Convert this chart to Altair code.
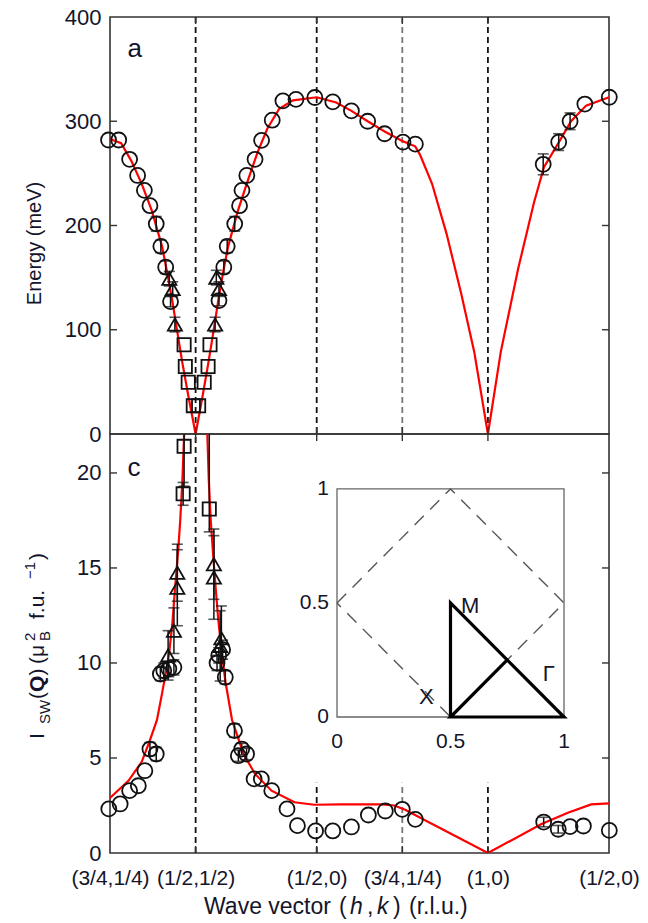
import altair as alt
import pandas as pd

# ---------------- x path (distance along the route, r.l.u.) ----------------
TICK_POS = [0.0, 0.3536, 0.8536, 1.2071, 1.5607, 2.0607]
TICK_LABELS = ["(3/4,1/4)", "(1/2,1/2)", "(1/2,0)", "(3/4,1/4)", "(1,0)", "(1/2,0)"]
VLINE_POS = [0.3536, 0.8536, 1.2071, 1.5607]
VLINE_COL = ["#111111", "#111111", "#777777", "#111111"]
VLINE_BOT_TOP = [22.05, 3.7, 3.7, 3.7]

# ---------------- panel a : energy ----------------
TOP_CIRC_X = [-0.006, 0.036, 0.081, 0.114, 0.142, 0.165, 0.191, 0.210, 0.230, 0.250,
              0.450, 0.470, 0.484, 0.515, 0.535, 0.545, 0.565, 0.599, 0.626, 0.670,
              0.714, 0.768, 0.846, 0.920, 0.997, 1.064, 1.134, 1.210, 1.261,
              1.789, 1.853, 1.900, 1.961, 2.062]
TOP_CIRC_Y = [282, 282, 263.5, 248, 233.7, 219, 201.6, 180, 160, 127,
              128, 160, 180, 201.6, 219, 233.7, 248, 263.5, 281.7, 301,
              319.6, 321, 322.8, 318.6, 310, 300, 288, 280, 278,
              258.7, 280, 300, 316.5, 323]
TOP_CIRC_ERR = [0, 0, 0, 0, 0, 0, 7, 6, 6, 5,
                5, 6, 6, 7, 0, 0, 0, 0, 0, 0,
                0, 0, 0, 0, 0, 0, 0, 0, 0,
                10, 8, 8, 0, 0]
TOP_TRI_X = [0.245, 0.259, 0.268, 0.434, 0.439, 0.450]
TOP_TRI_Y = [149, 139, 105, 105, 150, 139]
TOP_TRI_ERR = [7, 7, 7, 7, 7, 7]
TOP_SQ_X = [0.306, 0.311, 0.323, 0.344, 0.366, 0.389, 0.405, 0.413]
TOP_SQ_Y = [85.6, 64.7, 49.7, 27.2, 27.0, 49.7, 64.7, 85.6]

TOP_LINE_X = [0.0, 0.046, 0.088, 0.131, 0.173, 0.215, 0.236, 0.257, 0.278, 0.299, 0.324, 0.3536,
              0.382, 0.406, 0.427, 0.447, 0.467, 0.488, 0.528, 0.569, 0.609, 0.650, 0.699, 0.756,
              0.8536, 0.934, 0.997, 1.064, 1.136, 1.2071, 1.260, 1.280, 1.330, 1.390, 1.450,
              1.504, 1.5607,
              1.614, 1.685, 1.751, 1.792, 1.854, 1.904, 1.966, 2.0607]
TOP_LINE_Y = [283, 279, 262, 240, 214, 180, 155, 128, 98, 68, 36, 0,
              36, 68, 98, 128, 155, 180, 214, 243, 270, 293, 312, 320,
              323, 318, 310, 300, 290, 281, 276, 268, 240, 192, 135,
              79, 0,
              79, 158, 222, 256, 280, 300, 315, 323]

# ---------------- panel c : intensity ----------------
BOT_CIRC_X = [-0.005, 0.042, 0.081, 0.117, 0.144, 0.165, 0.191, 0.208, 0.222, 0.243, 0.264,
              0.465, 0.449, 0.442, 0.476, 0.514, 0.530, 0.544, 0.564, 0.595, 0.625, 0.668,
              0.731, 0.774, 0.849, 0.920, 0.997, 1.067, 1.137, 1.207, 1.261,
              1.791, 1.851, 1.900, 1.955, 2.062]
BOT_CIRC_Y = [2.32, 2.58, 3.28, 3.54, 4.33, 5.47, 5.21, 9.42, 9.6, 9.68, 9.77,
              10.7, 10.4, 10.0, 9.25, 6.44, 5.12, 5.47, 5.21, 3.9, 3.9, 3.28,
              2.32, 1.44, 1.16, 1.16, 1.37, 2.0, 2.21, 2.3, 1.77,
              1.63, 1.25, 1.39, 1.42, 1.19]
BOT_CIRC_ERR = [0, 0, 0, 0, 0, 0.35, 0.35, 0.35, 0.4, 0.4, 0.4,
                0.5, 0.4, 0.4, 0.35, 0.35, 0.3, 0.3, 0.3, 0, 0, 0,
                0, 0, 0, 0, 0, 0, 0, 0, 0,
                0.25, 0.2, 0, 0, 0]
BOT_TRI_X = [0.240, 0.264, 0.278, 0.278, 0.429, 0.429, 0.460, 0.455]
BOT_TRI_Y = [10.4, 11.7, 13.96, 14.75, 15.2, 14.5, 11.3, 10.9]
BOT_TRI_ERR = [1.3, 1.2, 2.0, 1.5, 1.85, 2.2, 1.7, 1.85]
BOT_SQ_X = [0.302, 0.306, 0.410]
BOT_SQ_Y = [18.9, 21.4, 18.1]
BOT_SQ_ERR_LO = [0.6, 2.1, 1.2]
BOT_SQ_ERR_HI = [0.6, 2.5, 5.0]

BOT_LINE_L_X = [0.0, 0.076, 0.131, 0.164, 0.194, 0.215, 0.232, 0.244, 0.257, 0.269, 0.282,
                0.290, 0.299, 0.306, 0.312]
BOT_LINE_L_Y = [2.9, 3.8, 4.8, 5.9, 7.0, 8.4, 9.6, 10.5, 12.0, 14.0, 16.0, 17.5, 19.6, 22.0, 24.5]
BOT_LINE_R_X = [0.394, 0.402, 0.408, 0.416, 0.427, 0.436, 0.447, 0.461, 0.477, 0.504, 0.552,
                0.599, 0.667, 0.762, 0.843, 0.955, 1.123, 1.174, 1.219, 1.295, 1.5607,
                1.780, 1.891, 1.987, 2.0607]
BOT_LINE_R_Y = [24.5, 22.0, 19.6, 17.5, 15.5, 14.0, 12.3, 10.6, 9.0, 7.0, 5.2,
                4.16, 3.28, 2.67, 2.54, 2.56, 2.56, 2.5, 2.28, 1.76, 0.0,
                1.51, 2.12, 2.56, 2.61]

# ---------------- inset (Brillouin zone, its own 0..1 units) ----------------
DIAMOND_X = [0, 0.5, 1, 0.5, 0]
DIAMOND_Y = [0.5, 1, 0.5, 0, 0.5]
ROUTE_X = [0.5, 0.5, 1, 0.5, 0.75]
ROUTE_Y = [0, 0.5, 0, 0, 0.25]
INSET_TICKS = [0, 0.5, 1]
INSET_TICK_TEXT = ["0", "0.5", "1"]
POINT_NAMES = ["M", "X", "Γ"]
POINT_NAME_X = [0.546, 0.361, 0.906]
POINT_NAME_Y = [0.457, 0.057, 0.158]
# placement of the inset box inside panel c (in panel-c data units)
INSET_X0, INSET_XSPAN = 0.9374, 0.9375
INSET_Y0, INSET_YSPAN = 7.157, 12.0

# ---------------- styling ----------------
FONT = "Liberation Sans"
W, H_TOP, H_BOT = 499, 417, 419
TXT = "#14142a"
LABEL_FS = 21

mids = [(TICK_POS[i] + TICK_POS[i + 1]) / 2 for i in range(len(TICK_POS) - 1)]
label_expr = "'%s'" % TICK_LABELS[-1]
for i in reversed(range(len(mids))):
    label_expr = "datum.value < %f ? '%s' : (%s)" % (mids[i], TICK_LABELS[i], label_expr)

xscale = alt.Scale(domain=[0, 2.0607], nice=False, zero=False)
yscale_top = alt.Scale(domain=[0, 400], nice=False, zero=False)
yscale_bot = alt.Scale(domain=[0, 22.05], nice=False, zero=False)

YAX_TOP = alt.Axis(values=[0, 100, 200, 300, 400], ticks=False, domain=False, grid=False,
                   labelFontSize=22, labelPadding=9, labelColor=TXT,
                   title="Energy (meV)", titleFontSize=20, titleFontWeight="normal",
                   titleColor=TXT, titleX=-70, titleY=226, titleAngle=270,
                   titleAlign="center", titleBaseline="alphabetic")
YAX_BOT = alt.Axis(values=[0, 5, 10, 15, 20], ticks=False, domain=False, grid=False,
                   labelFontSize=22, labelPadding=9, labelColor=TXT, title=None)
XAX_BOT = alt.Axis(values=TICK_POS, labelExpr=label_expr, ticks=False, domain=False,
                   grid=False, labelFontSize=LABEL_FS, labelPadding=14, labelOverlap=False,
                   labelFlush=False, labelColor=TXT, title=None)


def enc(xax, yax, yscale, x="x", y="y"):
    return dict(x=alt.X(f"{x}:Q", scale=xscale, axis=xax),
                y=alt.Y(f"{y}:Q", scale=yscale, axis=yax))


def panel_layers(circ, tri, sq, lines, xax, yax, yscale, clip):
    layers = []
    layers.append(alt.Chart(lines).mark_line(color="#ff0000", strokeWidth=2.2, clip=clip)
                  .encode(**enc(xax, yax, yscale), detail="b:N", order="i:Q"))
    for df in (circ, tri, sq):
        e = df[df["hi"] > df["lo"]]
        if len(e):
            layers.append(alt.Chart(e).mark_rule(color="#111", strokeWidth=1.5, clip=clip)
                          .encode(x=alt.X("x:Q", scale=xscale, axis=xax),
                                  y=alt.Y("lo:Q", scale=yscale, axis=yax), y2="hi:Q"))
            for col in ("lo", "hi"):
                layers.append(alt.Chart(e).mark_tick(orient="horizontal", size=11, thickness=1.6,
                                                     color="#111", clip=clip)
                              .encode(**enc(xax, yax, yscale, y=col)))
    for df, shape, size in ((circ, "circle", 225), (tri, "triangle-up", 200), (sq, "square", 175)):
        layers.append(alt.Chart(df).mark_point(shape=shape, filled=False, size=size,
                                               color="#111", strokeWidth=1.8, opacity=1)
                      .encode(**enc(xax, yax, yscale)))
    return layers


def mkdf(xs, ys, lo, hi):
    return pd.DataFrame({"x": xs, "y": ys,
                         "lo": [a - b for a, b in zip(ys, lo)],
                         "hi": [a + b for a, b in zip(ys, hi)]})


def tick_layers(yvals, yscale, yax, xax, h):
    t = []
    ydf = pd.DataFrame({"y": yvals})
    xdf = pd.DataFrame({"x": TICK_POS[1:-1]})
    t.append(alt.Chart(ydf).mark_rule(color="#333", strokeWidth=1.4)
             .encode(y=alt.Y("y:Q", scale=yscale, axis=yax), x=alt.value(0), x2=alt.value(7)))
    t.append(alt.Chart(ydf).mark_rule(color="#333", strokeWidth=1.4)
             .encode(y=alt.Y("y:Q", scale=yscale, axis=yax), x=alt.value(W - 7), x2=alt.value(W)))
    t.append(alt.Chart(xdf).mark_rule(color="#333", strokeWidth=1.4)
             .encode(x=alt.X("x:Q", scale=xscale, axis=xax), y=alt.value(0), y2=alt.value(7)))
    t.append(alt.Chart(xdf).mark_rule(color="#333", strokeWidth=1.4)
             .encode(x=alt.X("x:Q", scale=xscale, axis=xax), y=alt.value(h - 7), y2=alt.value(h)))
    return t


one = pd.DataFrame({"k": [0]})


def label_piece(txt, fs, px, py, angle=0, weight="normal", style="normal"):
    return (alt.Chart(one).mark_text(angle=angle, align="left", baseline="alphabetic",
                                     fontSize=fs, fontWeight=weight, fontStyle=style, color=TXT)
            .encode(x=alt.value(px), y=alt.value(py), text=alt.value(txt)))


# ---------------- top panel ----------------
top_circ = mkdf(TOP_CIRC_X, TOP_CIRC_Y, TOP_CIRC_ERR, TOP_CIRC_ERR)
top_tri = mkdf(TOP_TRI_X, TOP_TRI_Y, TOP_TRI_ERR, TOP_TRI_ERR)
top_sq = mkdf(TOP_SQ_X, TOP_SQ_Y, [0] * len(TOP_SQ_X), [0] * len(TOP_SQ_X))
top_lines = pd.DataFrame({"x": TOP_LINE_X, "y": TOP_LINE_Y, "b": 0, "i": range(len(TOP_LINE_X))})

vl_top = pd.DataFrame({"x": VLINE_POS, "c": VLINE_COL})
top_layers = [alt.Chart(vl_top).mark_rule(strokeDash=[6, 4], strokeWidth=1.8)
              .encode(x=alt.X("x:Q", scale=xscale, axis=None), color=alt.Color("c:N", scale=None))]
top_layers += panel_layers(top_circ, top_tri, top_sq, top_lines, None, YAX_TOP, yscale_top, False)
top_layers += tick_layers([100, 200, 300], yscale_top, YAX_TOP, None, H_TOP)
top_layers.append(alt.Chart(pd.DataFrame({"x": [0.072], "y": [362], "t": ["a"]}))
                  .mark_text(align="left", baseline="alphabetic", fontSize=26, color=TXT)
                  .encode(**enc(None, YAX_TOP, yscale_top), text="t:N"))
top = alt.layer(*top_layers).properties(width=W, height=H_TOP)

# ---------------- bottom panel ----------------
bot_circ = mkdf(BOT_CIRC_X, BOT_CIRC_Y, BOT_CIRC_ERR, BOT_CIRC_ERR)
bot_tri = mkdf(BOT_TRI_X, BOT_TRI_Y, BOT_TRI_ERR, BOT_TRI_ERR)
bot_sq = mkdf(BOT_SQ_X, BOT_SQ_Y, BOT_SQ_ERR_LO, BOT_SQ_ERR_HI)
bot_lines = pd.concat([
    pd.DataFrame({"x": BOT_LINE_L_X, "y": BOT_LINE_L_Y, "b": 0, "i": range(len(BOT_LINE_L_X))}),
    pd.DataFrame({"x": BOT_LINE_R_X, "y": BOT_LINE_R_Y, "b": 1, "i": range(len(BOT_LINE_R_X))}),
])
vl_bot = pd.DataFrame({"x": VLINE_POS, "c": VLINE_COL, "y1": 0, "y2": VLINE_BOT_TOP})
bot_layers = [alt.Chart(vl_bot).mark_rule(strokeDash=[6, 4], strokeWidth=1.8)
              .encode(x=alt.X("x:Q", scale=xscale, axis=XAX_BOT),
                      y=alt.Y("y1:Q", scale=yscale_bot, axis=YAX_BOT), y2="y2:Q",
                      color=alt.Color("c:N", scale=None))]
bot_layers += panel_layers(bot_circ, bot_tri, bot_sq, bot_lines, XAX_BOT, YAX_BOT, yscale_bot, True)
bot_layers += tick_layers([5, 10, 15, 20], yscale_bot, YAX_BOT, XAX_BOT, H_BOT)
bot_layers.append(alt.Chart(pd.DataFrame({"x": [0.072], "y": [19.84], "t": ["c"]}))
                  .mark_text(align="left", baseline="alphabetic", fontSize=26, color=TXT)
                  .encode(**enc(XAX_BOT, YAX_BOT, yscale_bot), text="t:N"))

# ----- inset, mapped into panel c coordinates -----
IX = "%f + %f * datum.u" % (INSET_X0, INSET_XSPAN)
IY = "%f + %f * datum.v" % (INSET_Y0, INSET_YSPAN)


def inset_chart(df):
    return alt.Chart(df).transform_calculate(x=IX, y=IY)


bot_layers.append(
    inset_chart(pd.DataFrame({"u": [0], "v": [0], "u2": [1], "v2": [1]}))
    .transform_calculate(x2="%f + %f * datum.u2" % (INSET_X0, INSET_XSPAN),
                         y2="%f + %f * datum.v2" % (INSET_Y0, INSET_YSPAN))
    .mark_rect(fill="white", stroke="#666", strokeWidth=1.3)
    .encode(**enc(XAX_BOT, YAX_BOT, yscale_bot), x2="x2:Q", y2="y2:Q"))
bot_layers.append(
    inset_chart(pd.DataFrame({"u": DIAMOND_X, "v": DIAMOND_Y, "i": range(5)}))
    .mark_line(color="#555", strokeWidth=1.4, strokeDash=[13, 9])
    .encode(**enc(XAX_BOT, YAX_BOT, yscale_bot), order="i:Q"))
bot_layers.append(
    inset_chart(pd.DataFrame({"u": ROUTE_X, "v": ROUTE_Y, "i": range(5)}))
    .mark_line(color="#000", strokeWidth=3.2)
    .encode(**enc(XAX_BOT, YAX_BOT, yscale_bot), order="i:Q"))
bot_layers.append(
    inset_chart(pd.DataFrame({"u": POINT_NAME_X, "v": POINT_NAME_Y, "t": POINT_NAMES}))
    .mark_text(align="left", baseline="alphabetic", fontSize=22, color=TXT)
    .encode(**enc(XAX_BOT, YAX_BOT, yscale_bot), text="t:N"))
bot_layers.append(
    inset_chart(pd.DataFrame({"u": [0, 0, 0], "v": INSET_TICKS, "t": INSET_TICK_TEXT}))
    .mark_text(align="right", baseline="middle", fontSize=LABEL_FS, color=TXT, dx=-8)
    .encode(**enc(XAX_BOT, YAX_BOT, yscale_bot), text="t:N"))
bot_layers.append(
    inset_chart(pd.DataFrame({"u": INSET_TICKS, "v": [0, 0, 0], "t": INSET_TICK_TEXT}))
    .mark_text(align="center", baseline="top", fontSize=LABEL_FS, color=TXT, dy=14)
    .encode(**enc(XAX_BOT, YAX_BOT, yscale_bot), text="t:N"))

# composite y-axis title  I_SW(Q) (mu_B^2 f.u.^-1), reading bottom-to-top
YT = [("I", 21, "normal", -66, 305), ("SW", 15, "normal", -60, 290),
      ("(", 21, "normal", -66, 265), ("Q", 21, "bold", -66, 258),
      (")", 21, "normal", -66, 241.5), ("(", 21, "normal", -66, 230),
      ("μ", 21, "normal", -66, 223), ("B", 15, "normal", -60, 207),
      ("2", 15, "normal", -75, 207), ("f.u.", 21, "normal", -66, 185),
      ("−1", 15, "normal", -75, 145), (")", 21, "normal", -66, 126)]
for txt, fs, fw, px, py in YT:
    bot_layers.append(label_piece(txt, fs, px, py, angle=270, weight=fw))

# composite x-axis title  Wave vector (h,k) (r.l.u.)
XT = [("Wave vector", "normal", 94), ("(", "normal", 229), ("h", "italic", 240),
      (",", "normal", 257), ("k", "italic", 267), (")", "normal", 283),
      ("(r.l.u.)", "normal", 299)]
for txt, st, px in XT:
    bot_layers.append(label_piece(txt, 23, px, 480, style=st))

bottom = alt.layer(*bot_layers).properties(width=W, height=H_BOT)

chart = (alt.vconcat(top, bottom, spacing=0, bounds="flush")
         .properties(padding={"left": 22, "top": 5, "right": 5, "bottom": 3})
         .configure(font=FONT)
         .configure_view(stroke="#333", strokeWidth=1.6))

chart.save("out.html", embed_options={"renderer": "svg", "actions": False})
